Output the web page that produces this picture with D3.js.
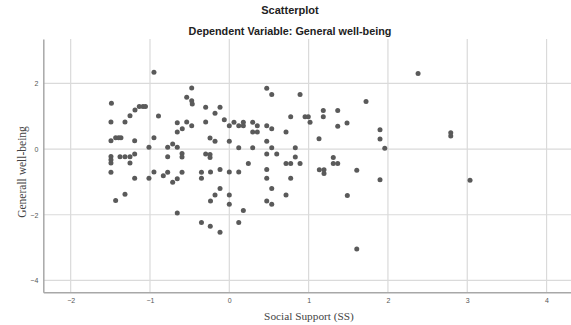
<!DOCTYPE html>
<html><head><meta charset="utf-8">
<script src="https://cdn.jsdelivr.net/npm/d3@7"></script>
<style>
html,body{margin:0;padding:0;background:#fff;}
svg{display:block;}
</style></head>
<body>
<script>
const titleText = "Scatterplot";
const subtitleText = "Dependent Variable: General well-being";
const xLabel = "Social Support (SS)";
const yLabel = "Generall well-being";
const xTicks = [-2, -1, 0, 1, 2, 3, 4];
const yTicks = [-4, -2, 0, 2];

const xs = [
 -0.950,-1.486,-0.474,-0.537,-0.474,-0.467,-0.298,-0.117,-0.180,-1.135,
 -1.088,-1.057,-1.189,-1.252,-1.315,-1.492,-0.893,-0.656,-0.537,-0.474,
 -0.593,-0.656,-0.298,-0.063,0.000,-1.492,-1.433,-1.395,-1.366,-1.193,
 -0.950,-1.013,-0.777,-0.714,-0.656,-0.243,-0.180,0.000,-0.596,-0.596,
 -0.777,-0.298,-0.243,-0.243,-1.492,-1.492,-1.492,-1.378,-1.315,-1.252,
 -1.193,-1.252,-1.492,-1.193,-1.013,-0.950,-0.832,-0.777,-0.656,-0.714,
 -0.596,-0.351,-0.351,-0.237,-0.117,0.000,-0.117,-0.180,-0.237,0.000,
 0.000,-1.315,-1.433,-0.656,-0.351,-0.240,-0.117,0.472,0.535,0.892,
 1.724,0.059,0.119,0.177,0.177,0.295,0.353,0.295,0.353,0.472,
 0.535,0.715,0.774,0.955,0.996,1.018,1.185,1.185,1.367,1.367,
 1.484,1.131,0.472,0.119,0.295,0.535,0.832,0.472,0.598,0.832,
 0.240,0.715,0.774,0.892,1.311,1.311,1.367,1.135,1.194,1.194,
 1.607,0.119,0.472,0.472,0.774,0.535,0.715,0.472,0.535,0.177,
 0.119,1.488,1.607,2.380,1.900,1.900,1.960,2.792,2.792,1.900,
 3.035
];
const ys = [
 2.336,1.396,1.862,1.578,1.474,1.374,1.274,1.274,1.090,1.298,
 1.298,1.298,1.190,1.016,0.824,0.824,1.008,0.804,0.824,0.712,
 0.620,0.520,0.824,0.894,0.712,0.254,0.346,0.346,0.346,0.254,
 0.346,0.052,0.052,0.152,0.052,0.336,0.238,0.238,-0.138,-0.244,
 -0.236,-0.152,-0.168,-0.254,-0.230,-0.326,-0.428,-0.236,-0.236,-0.236,
 -0.152,-0.428,-0.708,-0.886,-0.886,-0.702,-0.816,-0.708,-0.900,-1.008,
 -0.708,-0.706,-0.886,-0.702,-0.620,-0.702,-1.200,-1.396,-1.582,-1.396,
 -1.680,-1.374,-1.566,-1.946,-2.238,-2.346,-2.534,1.854,1.658,1.658,
 1.450,0.816,0.712,0.816,0.712,0.816,0.712,0.520,0.520,0.712,
 0.620,0.520,0.986,0.986,0.986,0.816,1.170,0.986,1.170,0.694,
 0.794,0.314,0.236,0.040,0.040,0.040,0.040,-0.152,-0.152,-0.244,
 -0.436,-0.436,-0.436,-0.436,-0.254,-0.442,-0.442,-0.632,-0.632,-0.742,
 -0.642,-0.702,-0.620,-0.886,-0.886,-1.200,-1.396,-1.578,-1.680,-1.872,
 -2.238,-1.414,-3.044,2.300,0.590,0.306,0.022,0.498,0.396,-0.932,
 -0.946
];

const W = 571, H = 325;
const plotLeft = 43.3, plotRight = 571, plotTop = 39, plotBottom = 292.3;

const svg = d3.select("body").append("svg").attr("width", W).attr("height", H);

const x = d3.scaleLinear().domain([-2.345, 4.308]).range([plotLeft, plotRight]);
const y = d3.scaleLinear().domain([-4.36, 3.35]).range([plotBottom, plotTop]);

// grid
svg.append("g").selectAll("line").data(xTicks).join("line")
  .attr("x1", d => x(d)).attr("x2", d => x(d))
  .attr("y1", plotTop).attr("y2", plotBottom)
  .attr("stroke", "#dadada").attr("stroke-width", 1.2);
svg.append("g").selectAll("line").data(yTicks).join("line")
  .attr("x1", plotLeft).attr("x2", plotRight)
  .attr("y1", d => y(d)).attr("y2", d => y(d))
  .attr("stroke", "#dadada").attr("stroke-width", 1.2);

// axes
const xAxis = svg.append("g").attr("transform", `translate(0,${plotBottom})`)
  .call(d3.axisBottom(x).tickValues(xTicks).tickSize(0).tickPadding(6).tickFormat(d3.format("d")));
const yAxis = svg.append("g").attr("transform", `translate(${plotLeft},0)`)
  .call(d3.axisLeft(y).tickValues(yTicks).tickSize(0).tickPadding(5).tickFormat(d3.format("d")));
[xAxis, yAxis].forEach(g => {
  g.select(".domain").attr("stroke", "#a8a8a8").attr("stroke-width", 1.5);
  g.selectAll("text").attr("font-family", "Arial, 'Liberation Sans', sans-serif")
    .attr("font-size", 7).attr("fill", "#555");
});

// points
const pts = xs.map((v, i) => ({x: v, y: ys[i]}));
svg.append("g").selectAll("circle").data(pts).join("circle")
  .attr("cx", d => x(d.x)).attr("cy", d => y(d.y)).attr("r", 2.5)
  .attr("fill", "#5a5a5a");

// titles
svg.append("text").attr("x", 290).attr("y", 14).attr("text-anchor", "middle")
  .attr("font-family", "Arial, 'Liberation Sans', sans-serif").attr("font-weight", "bold")
  .attr("font-size", 11).attr("fill", "#222").text(titleText);
svg.append("text").attr("x", 290).attr("y", 35).attr("text-anchor", "middle")
  .attr("font-family", "Arial, 'Liberation Sans', sans-serif").attr("font-weight", "bold")
  .attr("font-size", 10.8).attr("fill", "#222").text(subtitleText);

svg.append("text").attr("x", 309).attr("y", 320).attr("text-anchor", "middle")
  .attr("font-family", "'Times New Roman', 'Liberation Serif', serif")
  .attr("font-size", 11.3).attr("fill", "#444").text(xLabel);
svg.append("text").attr("transform", `translate(26,172) rotate(-90)`).attr("text-anchor", "middle")
  .attr("font-family", "'Times New Roman', 'Liberation Serif', serif")
  .attr("font-size", 11.5).attr("fill", "#444").text(yLabel);
</script>
</body></html>
